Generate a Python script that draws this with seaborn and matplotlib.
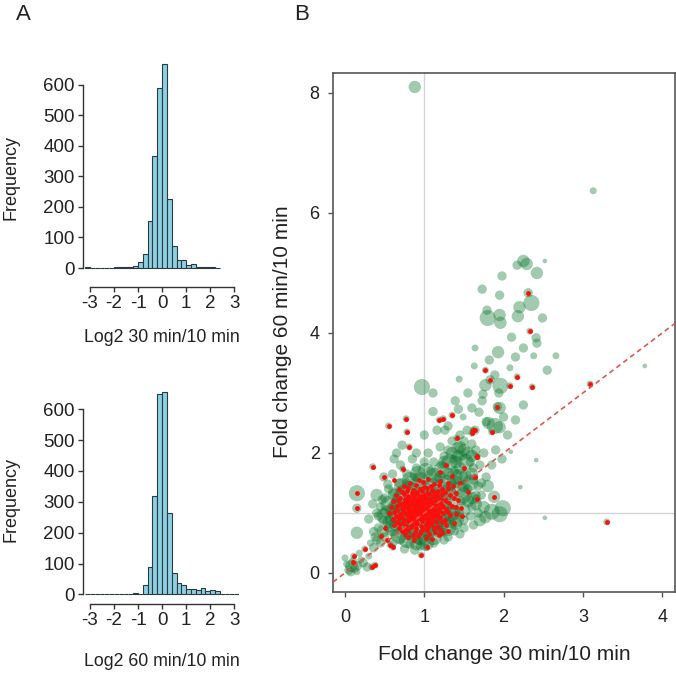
import pandas as pd
import seaborn as sns
import matplotlib.pyplot as plt

sns.set_style("ticks")
plt.rcParams['font.family'] = ['Liberation Sans', 'DejaVu Sans']
plt.rcParams['axes.unicode_minus'] = False

# Panel A: histogram bin counts (bins 0.2 wide, starting at -3.2)
bin_start = -3.2
bin_width = 0.2
counts_30 = [2, 1, 1, 0, 1, 1, 2, 3, 5, 4, 6, 20, 47, 153, 368, 589,
             668, 226, 73, 25, 27, 11, 14, 4, 3, 2, 2, 1]
counts_60 = [2, 1, 0, 1, 0, 1, 2, 2, 1, 3, 6, 3, 29, 90, 319, 650,
             655, 264, 68, 36, 30, 17, 16, 13, 21, 11, 14, 12, 1, 1, 0, 1]
xlabel_30 = "Log2 30 min/10 min"
xlabel_60 = "Log2 60 min/10 min"

# Panel B: fold changes (x = 30/10, y = 60/10, w = bubble weight, red = flagged)
green_outer = [
    (0.88, 8.10, 4, 0), (3.13, 6.37, 2, 0), (3.78, 3.45, 1, 0),
    (2.25, 5.20, 4, 0), (2.29, 5.15, 4, 0), (2.42, 5.00, 4, 0), (2.52, 5.20, 1, 0),
    (2.17, 5.13, 3, 0), (1.98, 4.95, 3, 0), (1.73, 4.73, 3, 0), (1.95, 4.63, 3, 0),
    (2.31, 4.67, 3, 1), (1.79, 4.38, 3, 0), (1.80, 4.25, 5, 0), (1.96, 4.17, 4, 0),
    (2.20, 4.43, 4, 0), (2.35, 4.50, 5, 0), (2.18, 4.28, 4, 0), (2.49, 4.25, 3, 0),
    (1.95, 4.30, 4, 0), (2.33, 4.03, 2, 1), (2.41, 3.92, 3, 0), (2.42, 3.83, 3, 0),
    (2.10, 3.93, 3, 0), (1.64, 3.75, 2, 0), (1.93, 3.68, 4, 0), (2.38, 3.62, 2, 0),
    (2.66, 3.62, 2, 0), (1.63, 3.45, 2, 0), (1.77, 3.38, 2, 1), (2.08, 3.42, 2, 0),
    (2.55, 3.38, 3, 0), (1.89, 3.30, 3, 0), (1.44, 3.23, 2, 0), (1.83, 3.22, 3, 1),
    (1.77, 3.13, 4, 0), (1.96, 3.12, 5, 0), (2.17, 3.27, 2, 1), (2.08, 3.12, 2, 1),
    (2.36, 3.10, 2, 1), (0.97, 3.10, 5, 0), (1.11, 3.00, 3, 0), (1.74, 2.98, 3, 0),
    (1.94, 3.00, 3, 0), (1.39, 2.87, 3, 0), (1.73, 2.87, 3, 0), (1.92, 2.77, 3, 1),
    (1.11, 2.69, 3, 0), (1.35, 2.63, 2, 1), (1.24, 2.57, 2, 1), (1.19, 2.55, 2, 1),
    (1.49, 2.60, 2, 0), (1.69, 2.68, 3, 0), (1.78, 2.52, 3, 0), (1.89, 2.45, 5, 0),
    (1.64, 2.38, 3, 1), (3.09, 3.15, 2, 1), (1.43, 2.73, 3, 0), (1.26, 2.38, 3, 0),
    (1.16, 2.38, 3, 0), (1.41, 2.25, 2, 1), (1.54, 2.38, 3, 0), (1.62, 2.38, 2, 1),
    (1.81, 2.50, 4, 0), (1.95, 2.43, 4, 0), (1.95, 2.75, 4, 0), (1.67, 1.93, 2, 1),
    (2.09, 2.02, 1, 0), (2.41, 1.88, 1, 0), (2.21, 1.43, 1, 0), (2.52, 0.92, 1, 0),
    (3.30, 0.85, 2, 1), (1.88, 1.27, 4, 1), (1.85, 1.02, 5, 0), (1.99, 1.08, 5, 0),
    (1.95, 0.98, 5, 0), (1.77, 0.93, 4, 0), (1.70, 0.88, 4, 0), (1.66, 1.23, 3, 1),
    (0.55, 2.45, 2, 1), (0.77, 2.57, 2, 1), (0.78, 2.35, 2, 1), (0.72, 2.13, 3, 0),
    (0.81, 2.10, 2, 1), (0.35, 1.77, 2, 1), (0.49, 1.60, 3, 1), (0.73, 1.73, 2, 1),
    (0.54, 1.48, 3, 0), (0.15, 1.33, 5, 1), (0.15, 1.08, 3, 1), (0.47, 1.22, 3, 0),
    (0.15, 0.67, 4, 0), (0.36, 0.69, 3, 0), (0.42, 0.95, 3, 0), (0.30, 0.90, 3, 0),
    (0.96, 0.30, 2, 1), (1.03, 0.43, 2, 1), (1.22, 0.67, 2, 1), (0.57, 0.47, 2, 1),
    (0.60, 0.43, 2, 1), (1.85, 2.35, 2, 1), (1.60, 2.33, 2, 1), (1.66, 1.95, 2, 1),
    (1.64, 1.60, 2, 1), (1.70, 1.80, 3, 0), (1.75, 2.00, 3, 0), (1.72, 1.50, 3, 0),
    (1.80, 1.45, 4, 0), (1.60, 2.15, 3, 0), (1.45, 2.10, 4, 0), (1.30, 2.05, 3, 0),
    (0.05, 0.05, 3, 0), (0.08, 0.12, 4, 0), (0.12, 0.08, 3, 0), (0.02, 0.15, 2, 0),
    (0.15, 0.02, 2, 0), (0.10, 0.18, 3, 1), (0.20, 0.22, 2, 0), (0.23, 0.17, 3, 0),
    (0.30, 0.28, 2, 0), (0.28, 0.10, 3, 0), (0.34, 0.10, 2, 1), (0.38, 0.13, 2, 1),
    (0.11, 0.28, 2, 1), (0.25, 0.40, 2, 1), (0.36, 0.42, 3, 0), (0.32, 0.50, 2, 0),
    (0.40, 0.55, 3, 0), (0.45, 0.62, 2, 1), (0.00, 0.25, 2, 0), (0.18, 0.33, 2, 0),
    (0.07, 0.02, 3, 0), (0.16, 0.12, 3, 0),
]

green_core = [
    (0.52, 1.02, 4), (0.60, 1.12, 3), (0.58, 0.90, 4), (0.66, 1.25, 3), (0.64, 0.80, 4),
    (0.70, 1.38, 3), (0.72, 0.70, 3), (0.75, 1.00, 4), (0.78, 1.50, 3), (0.80, 0.62, 3),
    (0.82, 1.18, 4), (0.85, 0.86, 4), (0.88, 1.60, 3), (0.90, 1.32, 4), (0.92, 0.55, 3),
    (0.95, 1.05, 4), (0.97, 0.74, 4), (1.00, 1.45, 4), (1.02, 1.20, 4), (1.04, 0.90, 4),
    (1.06, 0.62, 3), (1.08, 1.70, 3), (1.10, 1.35, 4), (1.12, 1.02, 4), (1.14, 0.78, 4),
    (1.16, 1.55, 4), (1.18, 1.22, 4), (1.20, 0.92, 4), (1.22, 1.80, 3), (1.24, 0.68, 3),
    (1.26, 1.42, 4), (1.28, 1.10, 4), (1.30, 1.65, 4), (1.32, 0.85, 4), (1.35, 1.30, 4),
    (1.37, 1.90, 3), (1.40, 1.52, 4), (1.42, 1.00, 4), (1.45, 1.75, 4), (1.47, 1.20, 3),
    (1.50, 0.88, 3), (1.52, 1.62, 4), (1.55, 1.40, 3), (1.58, 1.85, 3), (1.60, 1.10, 3),
    (1.62, 1.55, 3), (0.68, 1.05, 3), (0.74, 0.85, 3), (0.86, 1.42, 3), (0.94, 1.25, 3),
    (0.99, 0.98, 3), (1.05, 1.30, 3), (1.09, 1.12, 3), (0.83, 0.98, 3), (0.90, 1.15, 3),
    (1.15, 1.05, 3), (1.25, 1.28, 3), (1.33, 1.45, 3), (1.38, 1.70, 3), (1.48, 1.95, 3),
    (1.55, 2.00, 4), (1.25, 1.95, 3), (1.12, 1.85, 3), (1.42, 2.08, 4), (1.62, 1.75, 3),
    (1.68, 1.00, 3), (1.58, 0.95, 3), (1.50, 0.75, 3), (1.38, 0.70, 3), (1.25, 0.55, 3),
    (1.12, 0.50, 3), (0.95, 0.45, 3), (0.82, 0.48, 3), (0.70, 0.55, 3), (0.62, 0.65, 3),
    (0.55, 0.75, 3), (0.48, 0.88, 3), (0.45, 1.10, 3), (0.50, 1.25, 3), (0.60, 1.35, 3),
    (0.68, 1.50, 3), (0.78, 1.65, 3), (0.90, 1.75, 3), (1.00, 1.85, 3),
    (0.85, 1.05, 5), (1.00, 1.10, 5), (1.10, 0.95, 5), (0.90, 0.90, 5), (0.95, 1.30, 5),
    (1.15, 1.30, 5), (0.75, 1.15, 5), (1.25, 1.00, 5), (1.05, 0.80, 5), (0.80, 0.75, 4),
    (1.30, 1.50, 5), (1.45, 1.60, 5), (1.40, 1.85, 4), (1.50, 1.45, 4), (1.35, 1.15, 4),
    (1.20, 1.60, 4), (0.70, 0.90, 4), (0.65, 1.15, 4), (0.88, 0.65, 4), (1.18, 0.70, 4),
    (1.40, 0.82, 4), (1.55, 1.20, 4), (1.65, 1.30, 3), (1.60, 1.95, 4), (1.50, 2.20, 3),
    (1.35, 2.20, 3), (1.20, 2.10, 3), (1.05, 2.00, 3), (0.85, 1.90, 3), (0.70, 1.80, 3),
    (0.60, 1.65, 3), (0.55, 1.40, 3), (0.40, 1.00, 3), (0.42, 0.75, 3), (0.50, 0.60, 3),
    (0.60, 0.50, 3), (0.75, 0.40, 3), (0.88, 0.38, 3), (1.00, 0.55, 4), (1.30, 0.60, 3),
    (1.45, 0.65, 3), (1.62, 0.80, 3), (1.75, 1.10, 4), (1.72, 1.30, 3), (1.78, 1.60, 3),
    (1.85, 1.80, 3), (1.90, 2.05, 3), (1.98, 1.90, 3), (2.05, 2.30, 3), (2.00, 2.60, 3),
    (2.15, 2.55, 3), (2.25, 2.80, 3), (2.15, 3.60, 3), (2.25, 3.75, 3), (1.82, 3.55, 3),
    (1.55, 3.00, 3), (1.60, 2.75, 3), (1.30, 2.45, 3), (1.00, 2.30, 3), (0.90, 2.00, 3),
    (0.50, 0.95, 5), (0.55, 1.15, 5), (0.60, 0.75, 5), (0.62, 1.30, 4), (0.68, 0.62, 5),
    (0.72, 1.45, 5), (0.78, 0.55, 5), (0.82, 1.55, 5), (0.90, 0.48, 4), (0.92, 1.65, 5),
    (1.02, 0.50, 5), (1.02, 1.70, 5), (1.12, 0.60, 5), (1.12, 1.62, 5), (1.20, 0.75, 5),
    (1.22, 1.72, 5), (1.30, 0.75, 5), (1.32, 1.85, 5), (1.40, 0.90, 5), (1.42, 1.95, 4),
    (1.48, 1.05, 5), (1.50, 1.30, 5), (1.52, 1.85, 5), (1.58, 1.50, 5), (1.60, 1.65, 4),
    (1.65, 1.15, 4), (1.45, 1.40, 5), (1.38, 1.60, 5), (1.30, 1.35, 5), (1.35, 1.00, 5),
    (0.58, 1.05, 4), (0.55, 0.85, 4), (0.65, 0.95, 5), (0.70, 1.25, 5), (0.80, 1.40, 5),
    (0.95, 1.55, 5), (1.10, 1.45, 5), (1.20, 1.20, 5), (1.25, 0.90, 5), (1.15, 0.85, 5),
    (0.95, 0.60, 5), (0.82, 0.68, 5), (0.75, 0.80, 5), (1.05, 0.70, 5), (1.60, 1.25, 4),
    (1.68, 1.45, 3), (1.45, 2.30, 3), (1.35, 2.00, 4), (1.25, 1.85, 4), (1.50, 2.05, 4),
    (1.65, 2.05, 3), (0.48, 0.70, 4), (0.45, 0.50, 3), (0.38, 0.60, 3), (0.40, 1.30, 4),
    (0.35, 1.15, 3), (0.62, 1.90, 3), (0.65, 2.00, 3),
]

red_core = [
    (0.93, 1.55), (1.05, 1.56), (1.20, 1.54),
    (0.82, 1.50), (0.98, 1.51), (1.12, 1.49), (1.30, 1.50),
    (0.75, 1.45), (0.90, 1.46), (1.00, 1.44), (1.08, 1.45), (1.18, 1.46), (1.36, 1.45),
    (0.68, 1.40), (0.80, 1.41), (0.86, 1.39), (0.95, 1.40), (1.03, 1.41), (1.10, 1.39),
    (1.22, 1.40), (1.30, 1.41),
    (0.72, 1.35), (0.78, 1.36), (0.84, 1.34), (0.91, 1.35), (0.97, 1.36), (1.04, 1.34),
    (1.12, 1.35), (1.17, 1.36), (1.26, 1.35), (1.40, 1.34),
    (0.64, 1.30), (0.74, 1.31), (0.80, 1.29), (0.86, 1.30), (0.90, 1.31), (0.95, 1.29),
    (1.00, 1.30), (1.06, 1.31), (1.11, 1.29), (1.16, 1.30), (1.22, 1.31), (1.33, 1.30),
    (0.70, 1.25), (0.76, 1.24), (0.81, 1.26), (0.87, 1.25), (0.92, 1.24), (0.97, 1.26),
    (1.02, 1.25), (1.07, 1.24), (1.13, 1.26), (1.19, 1.25), (1.25, 1.24), (1.37, 1.25),
    (0.60, 1.20), (0.67, 1.21), (0.74, 1.19), (0.79, 1.20), (0.84, 1.21), (0.89, 1.19),
    (0.94, 1.20), (0.99, 1.21), (1.04, 1.19), (1.09, 1.20), (1.14, 1.21), (1.20, 1.19),
    (1.28, 1.20), (1.42, 1.21),
    (0.69, 1.15), (0.75, 1.14), (0.80, 1.16), (0.85, 1.15), (0.90, 1.14), (0.95, 1.16),
    (1.00, 1.15), (1.05, 1.14), (1.10, 1.16), (1.16, 1.15), (1.22, 1.14), (1.31, 1.16),
    (0.58, 1.10), (0.65, 1.11), (0.72, 1.09), (0.77, 1.10), (0.82, 1.11), (0.87, 1.09),
    (0.92, 1.10), (0.97, 1.11), (1.02, 1.09), (1.07, 1.10), (1.12, 1.11), (1.18, 1.09),
    (1.24, 1.10), (1.35, 1.11), (1.46, 1.09),
    (0.66, 1.05), (0.73, 1.04), (0.79, 1.06), (0.84, 1.05), (0.89, 1.04), (0.94, 1.06),
    (0.99, 1.05), (1.04, 1.04), (1.09, 1.06), (1.14, 1.05), (1.20, 1.04), (1.27, 1.06),
    (0.55, 1.00), (0.62, 1.01), (0.70, 0.99), (0.76, 1.00), (0.81, 1.01), (0.86, 0.99),
    (0.91, 1.00), (0.96, 1.01), (1.01, 0.99), (1.06, 1.00), (1.11, 1.01), (1.16, 0.99),
    (1.23, 1.00), (1.30, 1.01), (1.40, 0.99),
    (0.64, 0.95), (0.72, 0.94), (0.78, 0.96), (0.83, 0.95), (0.88, 0.94), (0.93, 0.96),
    (0.98, 0.95), (1.03, 0.94), (1.08, 0.96), (1.14, 0.95), (1.20, 0.94), (1.33, 0.96),
    (0.60, 0.90), (0.68, 0.91), (0.75, 0.89), (0.80, 0.90), (0.85, 0.91), (0.90, 0.89),
    (0.95, 0.90), (1.00, 0.91), (1.05, 0.89), (1.10, 0.90), (1.18, 0.91), (1.26, 0.89),
    (0.66, 0.85), (0.73, 0.84), (0.79, 0.86), (0.85, 0.85), (0.91, 0.84), (0.97, 0.86),
    (1.03, 0.85), (1.09, 0.84), (1.15, 0.86), (1.22, 0.85), (1.38, 0.84),
    (0.62, 0.80), (0.70, 0.81), (0.77, 0.79), (0.84, 0.80), (0.90, 0.81), (0.96, 0.79),
    (1.02, 0.80), (1.08, 0.81), (1.16, 0.79), (1.28, 0.80),
    (0.68, 0.75), (0.76, 0.74), (0.83, 0.76), (0.90, 0.75), (0.98, 0.74), (1.05, 0.76),
    (1.12, 0.75), (1.20, 0.74),
    (0.72, 0.70), (0.80, 0.71), (0.88, 0.69), (0.96, 0.70), (1.04, 0.71), (1.13, 0.69),
    (1.30, 0.70),
    (0.76, 0.65), (0.86, 0.64), (0.95, 0.66), (1.06, 0.65), (1.18, 0.64),
    (0.80, 0.60), (0.92, 0.61), (1.02, 0.59), (0.87, 0.55), (1.10, 0.56),
    (1.50, 1.75), (1.45, 1.50), (1.55, 1.35), (0.50, 0.75), (0.53, 0.55), (1.35, 1.62),
    (1.28, 1.80), (1.40, 1.10), (1.20, 1.68), (0.62, 1.55), (1.48, 0.95),
]

ref_intercept = 0.0
ref_slope = 1.0
xlabel_b = "Fold change 30 min/10 min"
ylabel_b = "Fold change 60 min/10 min"

W, H = 676, 673
fig = plt.figure(figsize=(W / 100, H / 100), dpi=100)

# ---- Panel A histograms ----
hist_color = '#8dd0e2'
edge_color = '#2b3a40'


def draw_hist(rect, counts, xlabel, ylim, lab_y):
    ax = fig.add_axes(rect)
    edges = [round(bin_start + bin_width * i, 2) for i in range(len(counts) + 1)]
    df = pd.DataFrame({'mid': [round(e + bin_width / 2, 2) for e in edges[:-1]],
                       'n': counts})
    sns.histplot(data=df, x='mid', weights='n', bins=edges, color=hist_color,
                 edgecolor=edge_color, linewidth=0.8, alpha=1, ax=ax)
    ax.set_xlim(-3.29, 3.2)
    ax.set_ylim(*ylim)
    ax.set_xticks(range(-3, 4))
    ax.set_yticks(range(0, 700, 100))
    ax.spines['left'].set_bounds(0, 600)
    ax.spines['bottom'].set_bounds(-3, 3)
    sns.despine(ax=ax)
    for s in ['left', 'bottom']:
        ax.spines[s].set_color('#333333')
        ax.spines[s].set_linewidth(1.0)
    ax.tick_params(length=3.6, width=1.0, color='#333333', labelsize=13.5,
                   labelcolor='#222222', pad=2.5)
    ax.set_xlabel('')
    ax.set_ylabel('')
    fig.text(162 / W, 1 - lab_y / H, xlabel, ha='center', va='center',
             fontsize=12.8, color='#222222')
    return ax


axA1 = draw_hist([83 / W, 1 - 287 / H, 156 / W, 225 / H], counts_30, xlabel_30,
                 (-62, 674), 337)
fig.text(11 / W, 1 - 178 / H, "Frequency", rotation=90, ha='center', va='center',
         fontsize=13, color='#222222')
axA2 = draw_hist([83 / W, 1 - 604 / H, 156 / W, 214 / H], counts_60, xlabel_60,
                 (-31, 662), 661)
fig.text(11 / W, 1 - 499 / H, "Frequency", rotation=90, ha='center', va='center',
         fontsize=13, color='#222222')

# ---- Panel B scatter ----
axB = fig.add_axes([333 / W, 1 - 592 / H, 342 / W, 519 / H])
outer = pd.DataFrame(green_outer, columns=['x', 'y', 'w', 'red'])
core = pd.DataFrame(green_core, columns=['x', 'y', 'w'])
green = pd.concat([outer[['x', 'y', 'w']], core], ignore_index=True)
reds = pd.concat([outer.loc[outer.red == 1, ['x', 'y']],
                  pd.DataFrame(red_core, columns=['x', 'y'])], ignore_index=True)

axB.axvline(1, color='#d4d4d4', lw=1.0, zorder=0)
axB.axhline(1, color='#d4d4d4', lw=1.0, zorder=0)
sns.scatterplot(data=green, x='x', y='y', size='w',
                sizes={1: 11, 2: 25, 3: 45, 4: 80, 5: 135},
                color='#08742a', alpha=0.38, linewidth=0, legend=False, ax=axB)
sns.scatterplot(data=reds, x='x', y='y', color='#ff0d0d', s=12, linewidth=0,
                legend=False, ax=axB, zorder=3)
axB.axline((0, ref_intercept), slope=ref_slope, color='#e0574f', lw=1.2,
           ls=(0, (3, 2.2)), zorder=4)

axB.set_xlim(-0.151, 4.161)
axB.set_ylim(-0.317, 8.333)
axB.set_xticks([0, 1, 2, 3, 4])
axB.set_yticks([0, 2, 4, 6, 8])
for s in axB.spines.values():
    s.set_color('#555555')
    s.set_linewidth(1.2)
axB.tick_params(axis='x', length=3.6, width=1.0, color='#555555', labelsize=13,
                labelcolor='#222222', pad=9)
axB.tick_params(axis='y', length=3.6, width=1.0, color='#555555', labelsize=13,
                labelcolor='#222222', pad=6)
axB.set_xlabel('')
axB.set_ylabel('')
fig.text(504 / W, 1 - 654 / H, xlabel_b, ha='center', va='center', fontsize=15,
         color='#222222')
fig.text(283 / W, 1 - 332 / H, ylabel_b, rotation=90, ha='center', va='center',
         fontsize=15, color='#222222')

fig.text(23 / W, 1 - 15 / H, "A", ha='center', va='center', fontsize=16,
         color='#222222')
fig.text(302 / W, 1 - 14 / H, "B", ha='center', va='center', fontsize=16,
         color='#222222')

fig.savefig('out.png', dpi=100)
